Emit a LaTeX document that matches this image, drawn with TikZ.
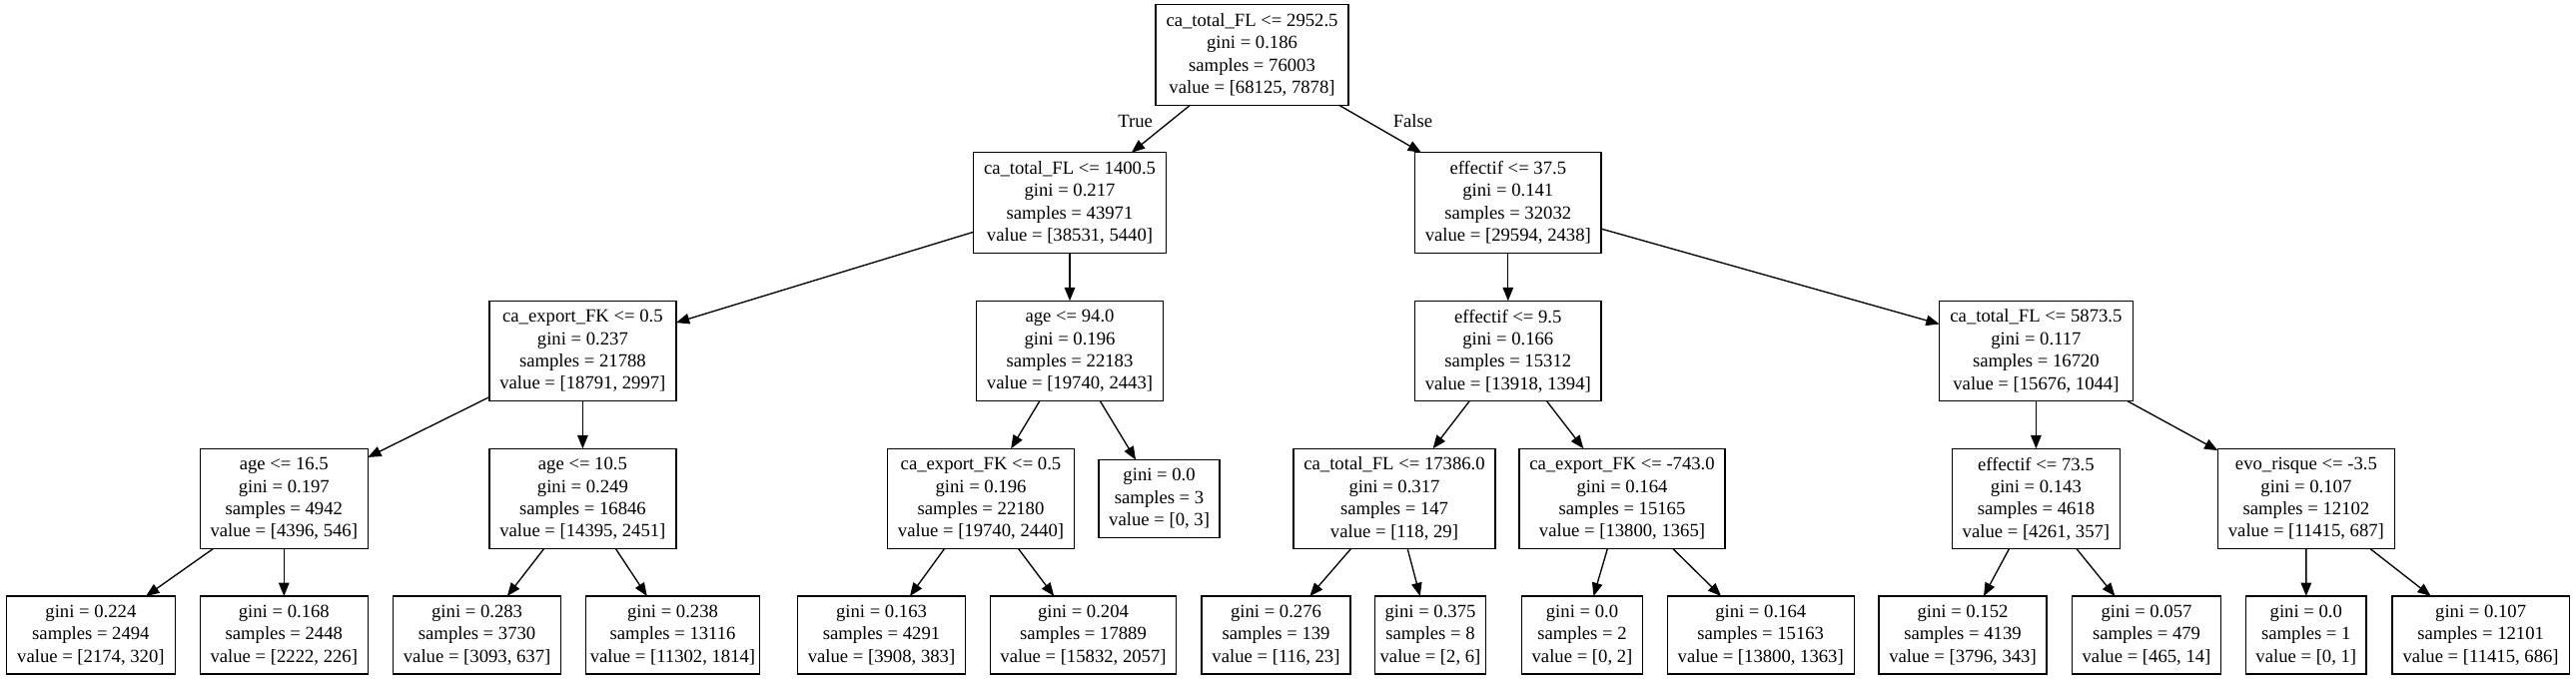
\documentclass[tikz,border=0pt]{standalone}
\usepackage{fontspec}
\setmainfont{Liberation Serif}
\usetikzlibrary{arrows.meta}
\newcommand{\gvfont}{\fontsize{18.67pt}{22.4pt}\selectfont}
\begin{document}
\begin{tikzpicture}[x=1pt,y=-1pt,
  gvbox/.style={draw=black, line width=1.33pt, rectangle, inner sep=0pt, outer sep=0pt,
    align=center, font=\gvfont, minimum height=100.5pt},
  gvleaf/.style={gvbox, minimum height=78pt},
  gvedge/.style={draw=black, line width=1.33pt, -{Triangle[length=13.3pt,width=10.5pt]}},
  gvlab/.style={font=\gvfont, inner sep=0pt, anchor=base}]
\fill[white] (0,0) rectangle (2579,681);
\useasboundingbox (0,0) rectangle (2579,681);
% level 0
\node[gvbox, minimum width=193pt] (r) at (1253.5,55) {ca\_total\_FL <= 2952.5\\gini = 0.186\\samples = 76003\\value = [68125, 7878]};
% level 1
\node[gvbox, minimum width=193pt] (a) at (1071,203) {ca\_total\_FL <= 1400.5\\gini = 0.217\\samples = 43971\\value = [38531, 5440]};
\node[gvbox, minimum width=186.6pt] (b) at (1509.8,203) {effectif <= 37.5\\gini = 0.141\\samples = 32032\\value = [29594, 2438]};
% level 2
\node[gvbox, minimum width=187pt] (aa) at (583.4,351.5) {ca\_export\_FK <= 0.5\\gini = 0.237\\samples = 21788\\value = [18791, 2997]};
\node[gvbox, minimum width=186.6pt] (ab) at (1071,351.5) {age <= 94.0\\gini = 0.196\\samples = 22183\\value = [19740, 2443]};
\node[gvbox, minimum width=186.6pt] (ba) at (1509.8,351.5) {effectif <= 9.5\\gini = 0.166\\samples = 15312\\value = [13918, 1394]};
\node[gvbox, minimum width=193.6pt] (bb) at (2038.4,351.5) {ca\_total\_FL <= 5873.5\\gini = 0.117\\samples = 16720\\value = [15676, 1044]};
% level 3
\node[gvbox, minimum width=168pt] (aaa) at (284.3,499.5) {age <= 16.5\\gini = 0.197\\samples = 4942\\value = [4396, 546]};
\node[gvbox, minimum width=187pt] (aab) at (583.4,499.5) {age <= 10.5\\gini = 0.249\\samples = 16846\\value = [14395, 2451]};
\node[gvbox, minimum width=187pt] (aba) at (982,499.5) {ca\_export\_FK <= 0.5\\gini = 0.196\\samples = 22180\\value = [19740, 2440]};
\node[gvleaf, minimum width=121pt] (abb) at (1160.6,499.5) {gini = 0.0\\samples = 3\\value = [0, 3]};
\node[gvbox, minimum width=202pt] (baa) at (1396,499.5) {ca\_total\_FL <= 17386.0\\gini = 0.317\\samples = 147\\value = [118, 29]};
\node[gvbox, minimum width=206pt] (bab) at (1624,499.5) {ca\_export\_FK <= -743.0\\gini = 0.164\\samples = 15165\\value = [13800, 1365]};
\node[gvbox, minimum width=168pt] (bba) at (2038.4,499.5) {effectif <= 73.5\\gini = 0.143\\samples = 4618\\value = [4261, 357]};
\node[gvbox, minimum width=177pt] (bbb) at (2308.9,499.5) {evo\_risque <= -3.5\\gini = 0.107\\samples = 12102\\value = [11415, 687]};
% level 4
\node[gvleaf, minimum width=169pt] (l1) at (90.9,636) {gini = 0.224\\samples = 2494\\value = [2174, 320]};
\node[gvleaf, minimum width=168pt] (l2) at (284.3,636) {gini = 0.168\\samples = 2448\\value = [2222, 226]};
\node[gvleaf, minimum width=168pt] (l3) at (477.6,636) {gini = 0.283\\samples = 3730\\value = [3093, 637]};
\node[gvleaf, minimum width=174pt] (l4) at (673.5,636) {gini = 0.238\\samples = 13116\\value = [11302, 1814]};
\node[gvleaf, minimum width=168pt] (l5) at (882.5,636) {gini = 0.163\\samples = 4291\\value = [3908, 383]};
\node[gvleaf, minimum width=186pt] (l6) at (1084.5,636) {gini = 0.204\\samples = 17889\\value = [15832, 2057]};
\node[gvleaf, minimum width=149pt] (l7) at (1277.5,636) {gini = 0.276\\samples = 139\\value = [116, 23]};
\node[gvleaf, minimum width=111pt] (l8) at (1432,636) {gini = 0.375\\samples = 8\\value = [2, 6]};
\node[gvleaf, minimum width=121pt] (l9) at (1584,636) {gini = 0.0\\samples = 2\\value = [0, 2]};
\node[gvleaf, minimum width=187pt] (l10) at (1762.7,636) {gini = 0.164\\samples = 15163\\value = [13800, 1363]};
\node[gvleaf, minimum width=168pt] (l11) at (1965,636) {gini = 0.152\\samples = 4139\\value = [3796, 343]};
\node[gvleaf, minimum width=149pt] (l12) at (2149,636) {gini = 0.057\\samples = 479\\value = [465, 14]};
\node[gvleaf, minimum width=120.5pt] (l13) at (2308.8,636) {gini = 0.0\\samples = 1\\value = [0, 1]};
\node[gvleaf, minimum width=177.5pt] (l14) at (2483.6,636) {gini = 0.107\\samples = 12101\\value = [11415, 686]};
% edges
\draw[gvedge] (r) -- (a);
\draw[gvedge] (r) -- (b);
\draw[gvedge] (a) -- (aa);
\draw[gvedge] (a) -- (ab);
\draw[gvedge] (b) -- (ba);
\draw[gvedge] (b) -- (bb);
\draw[gvedge] (aa) -- (aaa);
\draw[gvedge] (aa) -- (aab);
\draw[gvedge] (ab) -- (aba);
\draw[gvedge] (ab) -- (abb);
\draw[gvedge] (ba) -- (baa);
\draw[gvedge] (ba) -- (bab);
\draw[gvedge] (bb) -- (bba);
\draw[gvedge] (bb) -- (bbb);
\draw[gvedge] (aaa) -- (l1);
\draw[gvedge] (aaa) -- (l2);
\draw[gvedge] (aab) -- (l3);
\draw[gvedge] (aab) -- (l4);
\draw[gvedge] (aba) -- (l5);
\draw[gvedge] (aba) -- (l6);
\draw[gvedge] (baa) -- (l7);
\draw[gvedge] (baa) -- (l8);
\draw[gvedge] (bab) -- (l9);
\draw[gvedge] (bab) -- (l10);
\draw[gvedge] (bba) -- (l11);
\draw[gvedge] (bba) -- (l12);
\draw[gvedge] (bbb) -- (l13);
\draw[gvedge] (bbb) -- (l14);
% edge labels
\node[gvlab] (tlab) at (1136.7,127) {True};
\node[gvlab] (flab) at (1414.5,127) {False};
\end{tikzpicture}
\end{document}
